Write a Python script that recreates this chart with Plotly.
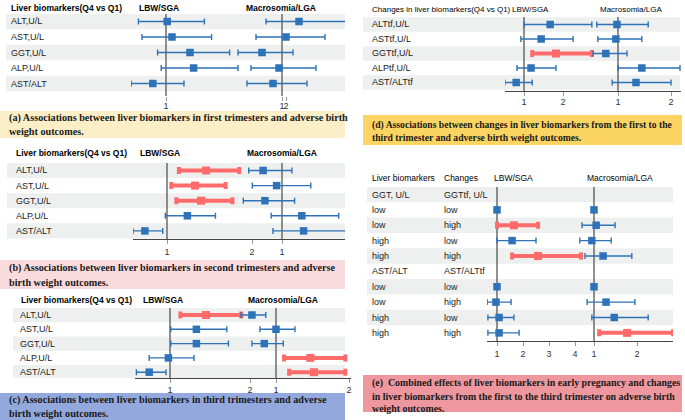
import plotly.graph_objects as go

W, H = 685, 420
BLUE = '#2E72B8'
RED = '#FF6B6B'
BAND = '#EDF0EE'

# ---------------- data ----------------
a_labels = ["ALT,U/L", "AST,U/L", "GGT,U/L", "ALP,U/L", "AST/ALT"]
a_lbw_or = [1.01, 1.05, 1.20, 1.23, 0.89]
a_lbw_lo = [0.77, 0.80, 0.93, 0.96, 0.71]
a_lbw_hi = [1.32, 1.38, 1.53, 1.60, 1.15]
a_lbw_sig = [0, 0, 0, 0, 0]
a_mac_or = [1.17, 1.04, 0.80, 0.97, 0.91]
a_mac_lo = [0.84, 0.74, 0.56, 0.69, 0.65]
a_mac_hi = [1.70, 1.43, 1.11, 1.34, 1.25]
a_mac_sig = [0, 0, 0, 0, 0]

b_labels = ["ALT,U/L", "AST,U/L", "GGT,U/L", "ALP,U/L", "AST/ALT"]
b_lbw_or = [1.46, 1.33, 1.40, 1.24, 0.74]
b_lbw_lo = [1.14, 1.05, 1.11, 0.98, 0.60]
b_lbw_hi = [1.85, 1.69, 1.77, 1.57, 0.95]
b_lbw_sig = [1, 1, 1, 0, 0]
b_mac_or = [0.79, 0.94, 0.81, 1.22, 1.24]
b_mac_lo = [0.63, 0.67, 0.57, 0.88, 0.90]
b_mac_hi = [1.11, 1.32, 1.14, 1.63, 1.75]
b_mac_sig = [0, 0, 0, 0, 0]

c_labels = ["ALT,U/L", "AST,U/L", "GGT,U/L", "ALP,U/L", "AST/ALT"]
c_lbw_or = [1.45, 1.33, 1.33, 0.98, 0.74]
c_lbw_lo = [1.13, 1.01, 1.01, 0.74, 0.58]
c_lbw_hi = [1.89, 1.71, 1.73, 1.30, 0.95]
c_lbw_sig = [1, 0, 0, 0, 0]
c_mac_or = [0.67, 1.00, 0.84, 1.47, 1.52]
c_mac_lo = [0.52, 0.78, 0.67, 1.11, 1.18]
c_mac_hi = [0.86, 1.26, 1.10, 1.95, 1.95]
c_mac_sig = [0, 0, 0, 1, 1]

d_labels = ["ALTtf,U/L", "ASTtf,U/L", "GGTtf,U/L", "ALPtf,U/L", "AST/ALTtf"]
d_lbw_or = [1.67, 1.44, 1.82, 1.18, 0.80]
d_lbw_lo = [1.00, 0.92, 1.21, 0.82, 0.51]
d_lbw_hi = [2.74, 2.26, 2.74, 1.82, 1.21]
d_lbw_sig = [0, 0, 1, 0, 0]
d_mac_or = [0.98, 0.96, 0.77, 1.45, 1.34]
d_mac_lo = [0.60, 0.62, 0.53, 1.00, 0.89]
d_mac_hi = [1.57, 1.45, 1.17, 2.17, 2.00]
d_mac_sig = [0, 0, 0, 0, 0]

e_labels1 = ["GGT, U/L", "low", "low", "high", "high", "AST/ALT", "low", "low", "high", "high"]
e_labels2 = ["GGTtf, U/L", "low", "high", "low", "high", "AST/ALTtf", "low", "high", "low", "high"]
e_lbw_or = [None, 1.00, 1.65, 1.58, 2.58, None, 1.00, 0.96, 1.08, 1.08]
e_lbw_lo = [None, 1.00, 1.00, 1.00, 1.58, None, 1.00, 0.62, 0.65, 0.65]
e_lbw_hi = [None, 1.00, 2.58, 2.50, 4.23, None, 1.00, 1.54, 1.65, 1.85]
e_lbw_sig = [0, 0, 1, 0, 1, 0, 0, 0, 0, 0]
e_mac_or = [None, 1.00, 1.05, 0.95, 1.21, None, 1.00, 1.28, 1.47, 1.77]
e_mac_lo = [None, 1.00, 0.72, 0.67, 0.79, None, 1.00, 0.84, 0.95, 1.12]
e_mac_hi = [None, 1.00, 1.49, 1.40, 1.88, None, 1.00, 1.95, 2.26, 2.84]
e_mac_sig = [0, 0, 0, 0, 0, 0, 0, 0, 0, 1]

lbw_ticks_abcd = [1, 2]
lbw_ticks_e = [1, 2, 3, 4]
mac_ticks_a = [1]
mac_ticks_b = [1]
mac_ticks_cde = [1, 2]

hdr_main = "Liver biomarkers(Q4 vs Q1)"
hdr_change = "Changes in liver biomarkers(Q4 vs Q1)"
hdr_lbw = "LBW/SGA"
hdr_mac = "Macrosomia/LGA"
hdr_e1 = "Liver biomarkers"
hdr_e2 = "Changes"

cap_a = ["(a) Associations between liver biomarkers in first trimesters and adverse birth",
         "weight outcomes."]
cap_b = ["(b) Associations between liver biomarkers in second trimesters and adverse",
         "birth weight outcomes."]
cap_c = ["(c) Associations between liver biomarkers in third trimesters and adverse",
         "birth weight outcomes."]
cap_d = ["(d) Associations between changes in liver biomarkers from the first to the",
         "third trimester and adverse birth weight outcomes."]
cap_e = ["(e)  Combined effects of liver biomarkers in early pregnancy and changes",
         "in liver biomarkers from the first to the third trimester on adverse birth",
         "weight outcomes."]

# ---------------- build ----------------
fig = go.Figure()
layout = {}
shapes = []
annots = []
SANS = "Liberation Sans, Arial, sans-serif"
SERIF = "Liberation Serif, Times New Roman, serif"


def ax_name(kind, n):
    return kind if n == 1 else f"{kind}{n}"


def add_side(xn, yn, orv, lo, hi, sig):
    for flag in (0, 1):
        xs, ys, ep, em = [], [], [], []
        for i, (o, l, h, s) in enumerate(zip(orv, lo, hi, sig)):
            if o is None or s != flag:
                continue
            xs.append(o); ys.append(i); ep.append(h - o); em.append(o - l)
        if not xs:
            continue
        col = RED if flag else BLUE
        fig.add_trace(go.Scatter(
            x=xs, y=ys, mode='markers', xaxis=ax_name('x', xn), yaxis=ax_name('y', yn),
            marker=dict(symbol='square', size=8 if flag else 7.5, color=col, line=dict(width=0)),
            error_x=dict(type='data', array=ep, arrayminus=em, color=col,
                         thickness=4 if flag else 1.4, width=3.5 if flag else 3),
            showlegend=False, hoverinfo='skip'))


def panel(idx, label_cols, lbw, mac, g):
    n = len(label_cols[0][1])
    yb = (g['axis'] - g['c0']) / g['rh']
    yt = (g['top'] - g['c0']) / g['rh']
    layout[ax_name('yaxis', idx)] = dict(domain=[1 - g['axis'] / H, 1 - g['top'] / H],
                                         range=[yb, yt], visible=False, fixedrange=True)
    xl, xm = 2 * idx - 1, 2 * idx
    for xn, (p1, ppu, ticks, show) in ((xl, (g['lp1'], g['lppu'], g['lt'], g['line'])),
                                       (xm, (g['mp1'], g['mppu'], g['mt'], False))):
        layout[ax_name('xaxis', xn)] = dict(
            domain=[g['L'] / W, g['R'] / W],
            range=[1 + (g['L'] - p1) / ppu, 1 + (g['R'] - p1) / ppu],
            anchor=ax_name('y', idx), tickvals=ticks, ticktext=[str(t) for t in ticks],
            ticks='outside', ticklen=4, tickcolor='#999', tickwidth=1,
            ticklabelstandoff=g['so'],
            tickfont=dict(size=9, color='#333', family=SANS),
            showgrid=False, zeroline=False, showline=show, linecolor='#444', linewidth=1,
            fixedrange=True)
    # bands
    for i in range(0, n, 2):
        shapes.append(dict(type='rect', xref='paper', yref=ax_name('y', idx),
                           x0=g['bx0'] / W, x1=g['bx1'] / W, y0=i - 0.5, y1=i + 0.5,
                           fillcolor=BAND, line=dict(width=0), layer='below'))
    # reference lines
    for xn in (xl, xm):
        shapes.append(dict(type='line', xref=ax_name('x', xn), yref=ax_name('y', idx) + ' domain',
                           x0=1, x1=1, y0=0, y1=1, line=dict(color='#555', width=1.3), layer='below'))
    # row labels
    for xpx, labs in label_cols:
        for i, t in enumerate(labs):
            annots.append(dict(text=t, x=xpx / W, xref='paper', y=i, yref=ax_name('y', idx),
                               xanchor='left', yanchor='middle', showarrow=False,
                               font=dict(size=9, color='#222', family=SANS)))
    # headers
    for t, xpx in g['hdr']:
        txt = f"<b>{t}</b>" if g['hb'] else t
        annots.append(dict(text=txt, x=xpx / W, xref='paper', y=1 - g['hy'] / H,
                           yref='paper', xanchor='left', yanchor='middle', showarrow=False,
                           font=dict(size=g['hs'], color='#000', family=SANS)))
    add_side(xl, idx, *lbw)
    add_side(xm, idx, *mac)


def caption(lines, x0, x1, y0, y1, color, tx, ly, fs):
    shapes.append(dict(type='rect', xref='paper', yref='paper', x0=x0 / W, x1=x1 / W,
                       y0=1 - y1 / H, y1=1 - y0 / H, fillcolor=color, line=dict(width=0),
                       layer='below'))
    for k, t in enumerate(lines):
        annots.append(dict(text=f"<b>{t}</b>", x=tx / W, xref='paper', y=1 - ly[k] / H,
                           yref='paper', xanchor='left', yanchor='middle', showarrow=False,
                           font=dict(size=fs, color='#1a1a1a', family=SERIF)))


panel(1, [(9, a_labels)],
      (a_lbw_or, a_lbw_lo, a_lbw_hi, a_lbw_sig), (a_mac_or, a_mac_lo, a_mac_hi, a_mac_sig),
      dict(top=14, c0=21.5, rh=15.5, axis=96, L=131, R=345, lp1=166, lppu=120, lt=lbw_ticks_abcd,
           mp1=282, mppu=100, mt=mac_ticks_a, bx0=6, bx1=345, hy=8, line=False, so=-3,
           hb=True, hs=8.5, hdr=[(hdr_main, 9), (hdr_lbw, 137), (hdr_mac, 244)]))
panel(2, [(14, b_labels)],
      (b_lbw_or, b_lbw_lo, b_lbw_hi, b_lbw_sig), (b_mac_or, b_mac_lo, b_mac_hi, b_mac_sig),
      dict(top=163, c0=170.5, rh=15.1, axis=239, L=133, R=345, lp1=167, lppu=85, lt=lbw_ticks_abcd,
           mp1=282, mppu=90, mt=mac_ticks_b, bx0=7, bx1=345, hy=153, line=True, so=0,
           hb=True, hs=8.5, hdr=[(hdr_main, 14), (hdr_lbw, 138), (hdr_mac, 245)]))
panel(3, [(18, c_labels)],
      (c_lbw_or, c_lbw_lo, c_lbw_hi, c_lbw_sig), (c_mac_or, c_mac_lo, c_mac_hi, c_mac_sig),
      dict(top=308, c0=315, rh=14.3, axis=378, L=135, R=351, lp1=170, lppu=80, lt=lbw_ticks_abcd,
           mp1=276, mppu=73, mt=mac_ticks_cde, bx0=13, bx1=345, hy=300, line=True, so=-1,
           hb=True, hs=8.5, hdr=[(hdr_main, 19), (hdr_lbw, 141), (hdr_mac, 246)]))
panel(4, [(370, d_labels)],
      (d_lbw_or, d_lbw_lo, d_lbw_hi, d_lbw_sig), (d_mac_or, d_mac_lo, d_mac_hi, d_mac_sig),
      dict(top=17, c0=24.5, rh=14.5, axis=91, L=505, R=681, lp1=524, lppu=39, lt=lbw_ticks_abcd,
           mp1=618, mppu=53, mt=mac_ticks_cde, bx0=363, bx1=680, hy=9, line=True, so=-2,
           hb=False, hs=8, hdr=[(hdr_change, 370), (hdr_lbw, 510), (hdr_mac, 598)]))
panel(5, [(370, e_labels1), (442, e_labels2)],
      (e_lbw_or, e_lbw_lo, e_lbw_hi, e_lbw_sig), (e_mac_or, e_mac_lo, e_mac_hi, e_mac_sig),
      dict(top=187, c0=194.5, rh=15.375, axis=341, L=487, R=673, lp1=497, lppu=26, lt=lbw_ticks_e,
           mp1=594, mppu=43, mt=mac_ticks_cde, bx0=367, bx1=673, hy=178, line=True, so=0,
           hb=False, hs=8.5, hdr=[(hdr_e1, 370), (hdr_e2, 442), (hdr_lbw, 492), (hdr_mac, 585)]))

caption(cap_a, 0, 345, 111, 138, '#FCEFC8', 7, [118, 131], 10.2)
caption(cap_b, 0, 345, 260, 289, '#F9DADD', 7, [268, 282], 10.2)
caption(cap_c, 0, 345, 393, 420, '#93A9DD', 7, [400, 413], 10.2)
caption(cap_d, 363, 682, 115, 145, '#FCD462', 370, [125, 138], 9.65)
caption(cap_e, 363, 682, 375, 412, '#EE979E', 370, [383, 396, 408], 9.9)

fig.update_layout(width=W, height=H, margin=dict(l=0, r=0, t=0, b=0),
                  paper_bgcolor='white', plot_bgcolor='rgba(0,0,0,0)',
                  shapes=shapes, annotations=annots, showlegend=False, **layout)
fig.write_html("out.html")
